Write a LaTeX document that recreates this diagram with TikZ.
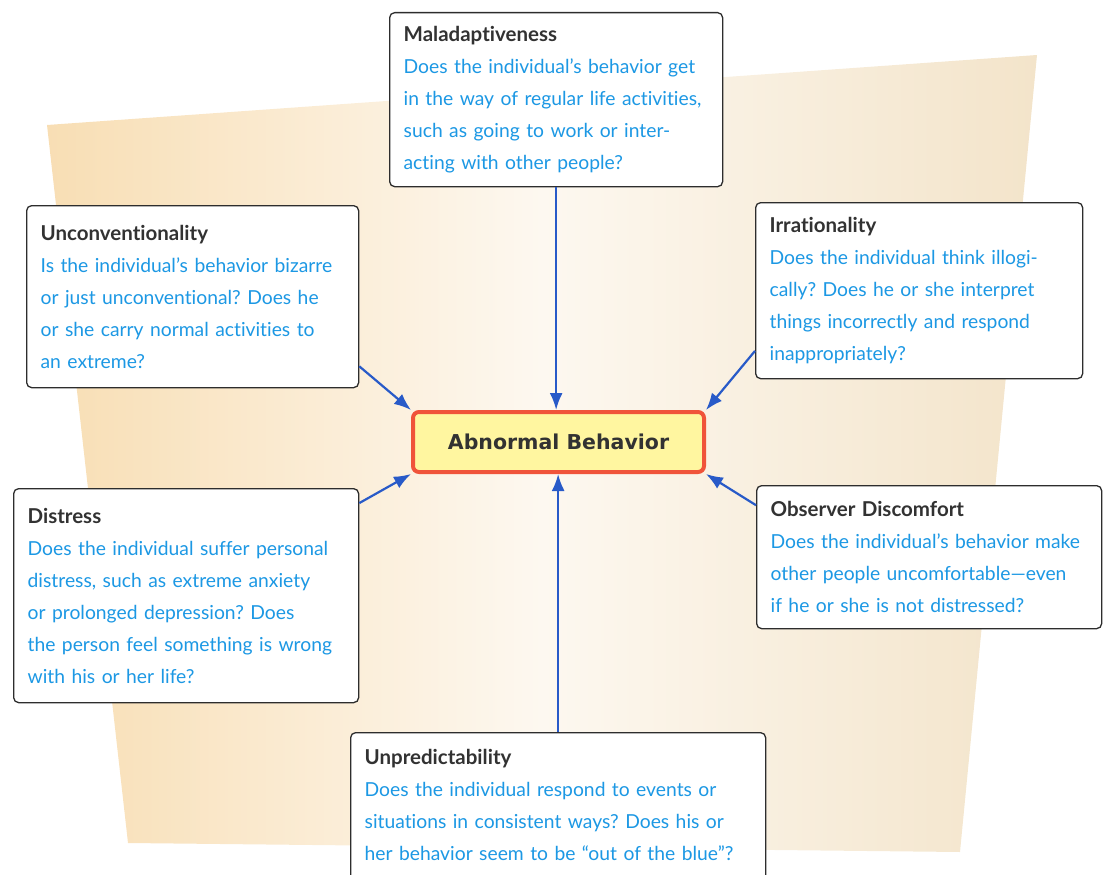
\documentclass[tikz,border=0pt]{standalone}
\usepackage{fontspec}
\setmainfont{Lato}[Ligatures=NoCommon]
\newfontfamily\headfont{DejaVu Sans}
\usetikzlibrary{arrows.meta,calc}
\definecolor{qblue}{RGB}{28,152,228}
\definecolor{headgray}{RGB}{50,50,50}
\definecolor{boxline}{RGB}{45,45,45}
\definecolor{arrowblue}{RGB}{40,90,200}
\definecolor{centerfill}{RGB}{255,246,160}
\definecolor{centerline}{RGB}{240,84,58}
\definecolor{peach}{RGB}{248,222,180}
\definecolor{cream}{RGB}{253,248,240}
\definecolor{sand}{RGB}{243,228,202}
\tikzset{
  crit/.style={draw=boxline, line width=1.3pt, rounded corners=5pt, fill=white,
    anchor=north west, align=left, inner xsep=14pt, inner ysep=8pt,
    font=\fontsize{19.3}{32}\selectfont, text=qblue},
  central/.style={draw=centerline, line width=4pt, rounded corners=6pt, fill=centerfill,
    anchor=north west, minimum width=291pt, minimum height=60pt,
    font=\headfont\bfseries\fontsize{20.5}{22}\selectfont, text=headgray},
  link/.style={draw=arrowblue, line width=2.2pt, -{Latex[length=17pt,width=13pt]}}
}
\newcommand{\crithead}[1]{{\color{headgray}\bfseries\fontsize{20.5}{32}\selectfont #1}}
\frenchspacing
\begin{document}
\begin{tikzpicture}[x=1pt, y=-1pt]
  \useasboundingbox (0,0) rectangle (1104,875);
  \clip (0,0) rectangle (1104,875);
  % paper sheet behind
  \shade[left color=peach, right color=sand, middle color=cream]
    (47,125) -- (1037,55) -- (960,852) -- (128,843) -- cycle;
  % centre
  \node[central] (abn) at (411,410) {Abnormal Behavior};
  % criteria
  \node[crit, text width=305pt, minimum height=174pt] (mal) at (389,12)
    {\crithead{Maladaptiveness}\\
     Does the individual's behavior get\\
     in the way of regular life activities,\\
     such as going to work or inter-\\
     acting with other people?};
  \node[crit, text width=304pt, minimum height=182pt] (unconv) at (26,205)
    {\crithead{Unconventionality}\\
     Is the individual's behavior bizarre\\
     or just unconventional? Does he\\
     or she carry normal activities to\\
     an extreme?};
  \node[crit, text width=299pt, minimum height=176pt] (irr) at (755,202)
    {\crithead{Irrationality}\\
     Does the individual think illogi-\\
     cally? Does he or she interpret\\
     things incorrectly and respond\\
     inappropriately?};
  \node[crit, text width=317pt, minimum height=214pt] (dist) at (13,488)
    {\crithead{Distress}\\
     Does the individual suffer personal\\
     distress, such as extreme anxiety\\
     or prolonged depression? Does\\
     the person feel something is wrong\\
     with his or her life?};
  \node[crit, text width=317pt, minimum height=143pt] (obs) at (756,485)
    {\crithead{Observer Discomfort}\\
     Does the individual's behavior make\\
     other people uncomfortable---even\\
     if he or she is not distressed?};
  \node[crit, text width=387pt, minimum height=176pt] (unp) at (350,732)
    {\crithead{Unpredictability}\\
     Does the individual respond to events or\\
     situations in consistent ways? Does his or\\
     her behavior seem to be ``out of the blue''?\\
     \mbox{}};
  % connectors
  \draw[link] (mal.south) -- (mal.south |- abn.north);
  \draw[link] (unp.north) -- (unp.north |- abn.south);
  \draw[link] ($(unconv.south east)!0.12!(unconv.north east)$) -- (abn.north west);
  \draw[link] ($(irr.south west)!0.16!(irr.north west)$) -- (abn.north east);
  \draw[link] ($(dist.north east)!0.07!(dist.south east)$) -- (abn.south west);
  \draw[link] ($(obs.north west)!0.14!(obs.south west)$) -- (abn.south east);
\end{tikzpicture}
\end{document}
